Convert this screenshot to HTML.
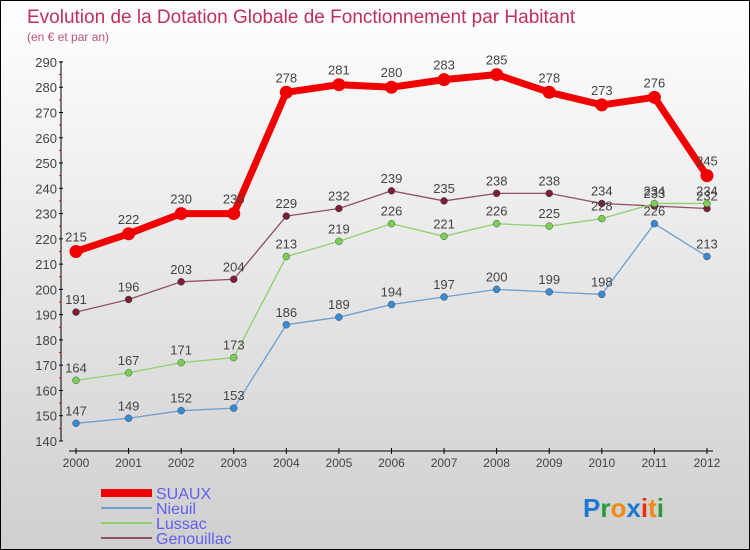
<!DOCTYPE html>
<html><head><meta charset="utf-8"><style>
body{margin:0}
#c{width:750px;height:550px;position:relative;overflow:hidden;background:linear-gradient(#ffffff,#cfcfcf);border:1px solid #000;box-sizing:border-box;font-family:"Liberation Sans",sans-serif}
svg text{font-family:"Liberation Sans",sans-serif}
</style></head><body>
<div id="c">
<svg width="750" height="550" id="s">
<text x="26" y="22" font-size="19" fill="#c0305a">Evolution de la Dotation Globale de Fonctionnement par Habitant</text>
<text x="26" y="40" font-size="12" fill="#c0507a">(en € et par an)</text>
<g id="g"></g>
<g font-size="26" font-weight="bold">
<text x="582" y="516"><tspan fill="#1a78d0">P</tspan><tspan fill="#2a9a3a">r</tspan><tspan fill="#f08a10">o</tspan><tspan fill="#1a78d0">x</tspan><tspan fill="#e83010">i</tspan><tspan fill="#f08a10">t</tspan><tspan fill="#2a9a3a">i</tspan></text>
</g>
</svg>
</div>
<script>
const years=[2000,2001,2002,2003,2004,2005,2006,2007,2008,2009,2010,2011,2012];
const suaux=[215,222,230,230,278,281,280,283,285,278,273,276,245];
const nieuil=[147,149,152,153,186,189,194,197,200,199,198,226,213];
const lussac=[164,167,171,173,213,219,226,221,226,225,228,234,234];
const genouillac=[191,196,203,204,229,232,239,235,238,238,234,233,232];
const yTicks=[140,150,160,170,180,190,200,210,220,230,240,250,260,270,280,290];
const NS='http://www.w3.org/2000/svg';
const g=document.getElementById('g');
const X=i=>75+i*52.58;
const Y=v=>440-(v-140)*2.527;
function el(t,a,p){const e=document.createElementNS(NS,t);for(const k in a)e.setAttribute(k,a[k]);(p||g).appendChild(e);return e;}
let ax=el('line',{x1:60,y1:60,x2:60,y2:440,stroke:'#000','stroke-width':1});


yTicks.forEach(v=>{
 el('line',{x1:58,x2:62,y1:Y(v),y2:Y(v),stroke:'#000'});
 if(v<290){el('line',{x1:58,x2:60,y1:Y(v+5),y2:Y(v+5),stroke:'#e00'});}
 let t=el('text',{x:56,y:Y(v)+5,'text-anchor':'end','font-size':13,fill:'#444'});
 
 
 t.textContent=v;
});
let xa=el('line',{x1:68,y1:450,x2:712,y2:450,stroke:'#000'});


years.forEach((y,i)=>{
 el('line',{x1:X(i),x2:X(i),y1:447,y2:453,stroke:'#000'});
 let t=el('text',{x:X(i),y:466,'text-anchor':'middle','font-size':12,fill:'#444'});
 
 
 t.textContent=y;
});
const series=[
 {n:'genouillac',d:genouillac,c:'#7a2030',lc:'#905060',w:1.3,r:3.5},
 {n:'lussac',d:lussac,c:'#7ad050',lc:'#90d070',w:1.3,r:3.5},
 {n:'nieuil',d:nieuil,c:'#3a8ad0',lc:'#6aa0d0',w:1.3,r:3.5},
 {n:'suaux',d:suaux,c:'#f00000',lc:'#f00000',w:7,r:6.5}
];
series.forEach(s=>{
 let p=el('polyline',{points:s.d.map((v,i)=>X(i)+','+Y(v)).join(' '),fill:'none',stroke:s.lc,'stroke-width':s.w});
 
 
 s.d.forEach((v,i)=>{
  let c=el('circle',{cx:X(i),cy:Y(v),r:s.r,fill:s.c,stroke:s.n=='suaux'?'none':'#335','stroke-width':0.4});
  
  
  let t=el('text',{x:X(i),y:Y(v)-(s.n=='suaux'?10:8),'text-anchor':'middle','font-size':13,fill:'#444'});
  
  
  t.textContent=v;
 });
});
const leg=[['SUAUX','#f00000',8],['Nieuil','#6aa0d0',2],['Lussac','#90d070',2],['Genouillac','#905060',2]];
leg.forEach((l,i)=>{
 const y=492+i*15;
 let ln=el('line',{x1:100,x2:151,y1:y,y2:y,stroke:l[1],'stroke-width':l[2]});
 
 
 let t=el('text',{x:155,y:y+6,'font-size':16,fill:'#6060f0'});
 
 
 t.textContent=l[0];
});
</script>
</body></html>
